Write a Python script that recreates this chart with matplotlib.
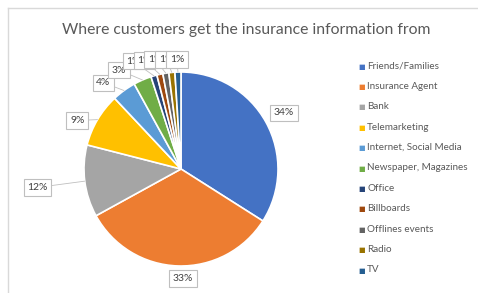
import matplotlib.pyplot as plt
import numpy as np
from matplotlib.lines import Line2D

# Data
sources = ["Friends/Families", "Insurance Agent", "Bank", "Telemarketing",
           "Internet, Social Media", "Newspaper, Magazines", "Office",
           "Billboards", "Offlines events", "Radio", "TV"]
shares = [34, 33, 12, 9, 4, 3, 1, 1, 1, 1, 1]
colors = ["#4472C4", "#ED7D31", "#A5A5A5", "#FFC000", "#5B9BD5", "#70AD47",
          "#264478", "#9E480E", "#636363", "#997300", "#255E91"]
title = "Where customers get the insurance information from"

plt.rcParams["font.family"] = ["Lato", "DejaVu Sans"]
W, H = 478, 293
fig = plt.figure(figsize=(W / 100, H / 100), dpi=100)

# chart area border (left + top visible)
fig.add_artist(Line2D([8 / W, 8 / W], [0, 1 - 8 / H], color="#d9d9d9", lw=1))
fig.add_artist(Line2D([8 / W, 1], [1 - 8 / H, 1 - 8 / H], color="#d9d9d9", lw=1))

fig.text(246 / W, 1 - 30 / H, title, ha="center", va="center",
         fontsize=11.3, color="#595959")

# pie axes: centre (181,169), radius 97 px
cx, cy, r = 181, 169, 97
ax = fig.add_axes([(cx - r) / W, 1 - (cy + r) / H, 2 * r / W, 2 * r / H])
wedges, _ = ax.pie(shares, colors=colors, startangle=90, counterclock=False,
                   radius=1, wedgeprops=dict(edgecolor="white", linewidth=1.2))
ax.set_xlim(-1, 1)
ax.set_ylim(-1, 1)
ax.set_aspect("equal")
ax.axis("off")

box = dict(boxstyle="square,pad=0.35", fc="white", ec="#bfbfbf", lw=0.8)
small_i = 0
for i, (w, s) in enumerate(zip(wedges, shares)):
    mid = np.deg2rad((w.theta1 + w.theta2) / 2)
    ex, ey = np.cos(mid), np.sin(mid)
    if s == 34:
        tx, ty = 1.06, 0.58
    elif s == 33:
        tx, ty = 0.02, -1.13
    elif s == 12:
        tx, ty = -1.48, -0.19
    elif s == 9:
        tx, ty = -1.07, 0.5
    elif s == 4:
        tx, ty = -0.8, 0.89
    elif s == 3:
        tx, ty = -0.64, 1.02
    else:
        tx = -0.49 + 0.112 * small_i
        ty = 1.11 + 0.01 * min(small_i, 2)
        small_i += 1
    ax.annotate(f"{s}%", xy=(ex, ey), xytext=(tx, ty), ha="center", va="center",
                fontsize=7.5, color="#404040", bbox=box, zorder=5 + i,
                arrowprops=dict(arrowstyle="-", color="#bfbfbf", lw=0.6,
                                shrinkA=0, shrinkB=0) if s <= 12 else None,
                annotation_clip=False)

# legend
for i, (name, c) in enumerate(zip(sources, colors)):
    y = 1 - (66 + i * 20.4) / H
    fig.text(358 / W, y, "\u25a0", color=c, fontsize=5, va="center")
    fig.text(367 / W, y, name, color="#595959", fontsize=7.1, va="center")

fig.savefig("out.png", dpi=100, facecolor="white")
